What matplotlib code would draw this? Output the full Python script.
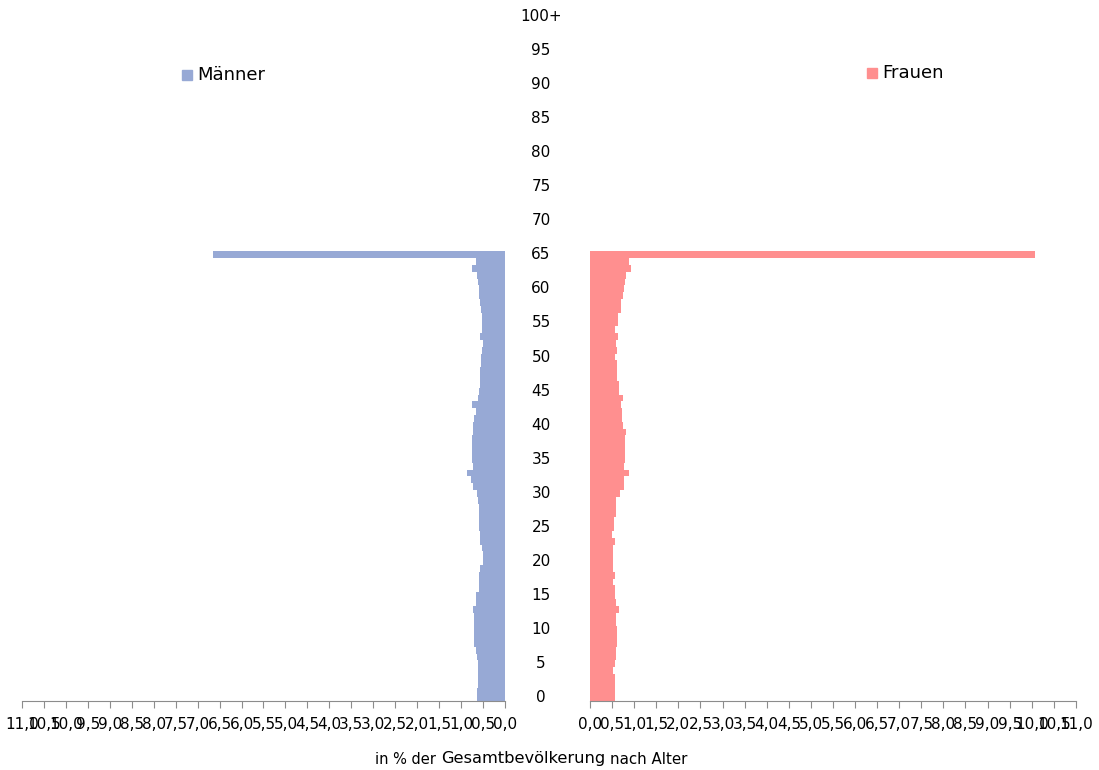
import numpy as np
import matplotlib
matplotlib.use("Agg")
import matplotlib.pyplot as plt

# share of total population (%) by single year of age, ages 0..65 (66+ empty)
men = [0.64, 0.64, 0.62, 0.62, 0.62, 0.61, 0.64, 0.66, 0.70, 0.70,
       0.70, 0.70, 0.70, 0.73, 0.67, 0.66, 0.59, 0.59, 0.59, 0.58,
       0.51, 0.51, 0.52, 0.58, 0.56, 0.59, 0.59, 0.59, 0.60, 0.62,
       0.64, 0.73, 0.77, 0.87, 0.73, 0.74, 0.75, 0.75, 0.74, 0.73,
       0.72, 0.71, 0.66, 0.75, 0.62, 0.60, 0.58, 0.57, 0.56, 0.55,
       0.55, 0.53, 0.51, 0.56, 0.52, 0.52, 0.53, 0.55, 0.58, 0.59,
       0.60, 0.62, 0.64, 0.75, 0.66, 6.65]
women = [0.56, 0.56, 0.56, 0.56, 0.53, 0.56, 0.59, 0.59, 0.60, 0.60,
         0.60, 0.59, 0.59, 0.66, 0.59, 0.56, 0.56, 0.51, 0.56, 0.51,
         0.51, 0.51, 0.51, 0.56, 0.49, 0.54, 0.54, 0.59, 0.59, 0.59,
         0.67, 0.77, 0.77, 0.88, 0.77, 0.78, 0.78, 0.78, 0.78, 0.81,
         0.75, 0.73, 0.73, 0.70, 0.75, 0.66, 0.66, 0.62, 0.62, 0.62,
         0.56, 0.61, 0.58, 0.63, 0.56, 0.64, 0.64, 0.70, 0.70, 0.74,
         0.76, 0.78, 0.81, 0.93, 0.88, 10.07]
ages = np.arange(len(men))
age_ticks = list(range(0, 101, 5))
age_labels = [str(a) for a in range(0, 100, 5)] + ["100+"]
x_ticks = np.arange(0, 11.01, 0.5)
caption = [("in % der", 10.5), ("Gesamtbevölkerung", 11.7), ("nach Alter", 10.8)]

MEN_COLOR = "#97A9D5"
WOMEN_COLOR = "#FF8F8F"
GREY = "#8C8C8C"

fig = plt.figure(figsize=(10.99, 7.7), dpi=100)
bottom, top = 0.0891, 0.9836
ax_m = fig.add_axes([0.020, bottom, 0.4395, top - bottom])
ax_w = fig.add_axes([0.5369, bottom, 0.4421, top - bottom])

ax_m.barh(ages, men, height=1.0, color=MEN_COLOR, linewidth=0)
ax_w.barh(ages, women, height=1.0, color=WOMEN_COLOR, linewidth=0)

for ax in (ax_m, ax_w):
    ax.set_ylim(-0.5, 100.5)
    ax.set_xlim(0, 11)
    ax.set_xticks(x_ticks)
    ax.set_xticklabels([f"{v:.1f}".replace(".", ",") for v in x_ticks], fontsize=11)
    ax.set_yticks([])
    for s in ("top", "left", "right"):
        ax.spines[s].set_visible(False)
    ax.spines["bottom"].set_color(GREY)
    ax.tick_params(axis="x", direction="out", length=5, color=GREY, pad=6)
ax_m.invert_xaxis()

# age labels between the two halves
for a, lab in zip(age_ticks, age_labels):
    y = ax_m.transData.transform((0, a))[1]
    yf = fig.transFigure.inverted().transform((0, y))[1]
    fig.text(0.4923, yf, lab, ha="center", va="center", fontsize=11)

# legends
fig.patches.append(plt.Rectangle((182 / 1099, 1 - 80 / 770), 10 / 1099, 10 / 770,
                                 transform=fig.transFigure, color=MEN_COLOR))
fig.text(197 / 1099, 1 - 75 / 770, "Männer", ha="left", va="center", fontsize=13)
fig.patches.append(plt.Rectangle((867 / 1099, 1 - 78 / 770), 10 / 1099, 10 / 770,
                                 transform=fig.transFigure, color=WOMEN_COLOR))
fig.text(882 / 1099, 1 - 73 / 770, "Frauen", ha="left", va="center", fontsize=13)

# axis caption with mixed sizes, pieces chained left to right
renderer = fig.canvas.get_renderer()
yc = 1 - 759 / 770
x_px = 375
for txt, size in caption:
    t = fig.text(x_px / 1099, yc, txt, ha="left", va="center", fontsize=size)
    x_px = t.get_window_extent(renderer).x1 + 5

fig.savefig("out.png", dpi=100)
